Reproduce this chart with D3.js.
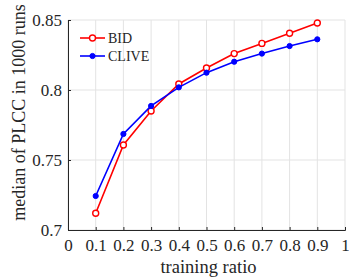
<!DOCTYPE html>
<html>
<head>
<meta charset="utf-8">
<script src="https://cdn.jsdelivr.net/npm/d3@7"></script>
<style>
  body { margin: 0; background: #fff; }
  svg { display: block; font-family: "Liberation Serif", "Times New Roman", serif; }
</style>
</head>
<body>
<svg id="chart" width="349" height="278"></svg>
<script>
// data
const ratios = [0.1, 0.2, 0.3, 0.4, 0.5, 0.6, 0.7, 0.8, 0.9];
const bidValues = [0.712, 0.7607, 0.785, 0.8043, 0.8157, 0.826, 0.8333, 0.8405, 0.8479];
const cliveValues = [0.7243, 0.7686, 0.7886, 0.8019, 0.8124, 0.8202, 0.826, 0.8314, 0.8362];
const xTicks = [0, 0.1, 0.2, 0.3, 0.4, 0.5, 0.6, 0.7, 0.8, 0.9, 1];
const yTicks = [0.7, 0.75, 0.8, 0.85];

const svg = d3.select('#chart');
const margin = {top: 20, right: 4, bottom: 48, left: 68};
const width = 349, height = 278;
const chartWidth = width - margin.left - margin.right;
const chartHeight = height - margin.top - margin.bottom;

const g = svg.append('g')
    .attr('transform', `translate(${margin.left},${margin.top})`);

const xScale = d3.scaleLinear().domain([0, 1]).range([0, chartWidth]);
const yScale = d3.scaleLinear().domain([0.7, 0.85]).range([chartHeight, 0]);

// grid
g.selectAll('.vgrid').data(xTicks).enter().append('line')
    .attr('x1', d => xScale(d)).attr('x2', d => xScale(d))
    .attr('y1', 0).attr('y2', chartHeight)
    .attr('stroke', '#e3e3e3').attr('stroke-width', 1);
g.selectAll('.hgrid').data(yTicks).enter().append('line')
    .attr('x1', 0).attr('x2', chartWidth)
    .attr('y1', d => yScale(d)).attr('y2', d => yScale(d))
    .attr('stroke', '#e3e3e3').attr('stroke-width', 1);

// axes, ticks pointing inward like matlab
const xAxis = g.append('g')
    .attr('transform', `translate(0,${chartHeight})`)
    .call(d3.axisBottom(xScale).tickValues(xTicks).tickSize(-3).tickPadding(9)
        .tickFormat(d => d === 0 || d === 1 ? d3.format('d')(d) : d3.format('.1f')(d)));
const yAxis = g.append('g')
    .call(d3.axisLeft(yScale).tickValues(yTicks).tickSize(-3).tickPadding(6)
        .tickFormat(d => String(+d.toFixed(2))));

[xAxis, yAxis].forEach(a => {
    a.select('.domain').attr('stroke', '#262626').attr('stroke-width', 1);
    a.selectAll('.tick line').attr('stroke', '#262626');
    a.selectAll('.tick text').attr('fill', '#262626')
        .style('font-size', '17px').style('font-family', '"Liberation Serif", serif');
});

// axis labels
g.append('text')
    .attr('x', chartWidth / 2 + 2)
    .attr('y', chartHeight + 43)
    .attr('text-anchor', 'middle')
    .attr('fill', '#262626')
    .style('font-size', '18.5px')
    .text('training ratio');

g.append('text')
    .attr('transform', 'rotate(-90)')
    .attr('x', -chartHeight / 2 + 12.5)
    .attr('y', -43)
    .attr('text-anchor', 'middle')
    .attr('fill', '#262626')
    .style('font-size', '18px')
    .text('median of PLCC in 1000 runs');

const line = d3.line()
    .x((d, i) => xScale(ratios[i]))
    .y(d => yScale(d));

const series = [
    {name: 'BID', values: bidValues, color: '#ff0000', open: true},
    {name: 'CLIVE', values: cliveValues, color: '#0000ff', open: false}
];

series.forEach(s => {
    g.append('path')
        .datum(s.values)
        .attr('d', line)
        .attr('fill', 'none')
        .attr('stroke', s.color)
        .attr('stroke-width', 1.6);
    g.selectAll(null).data(s.values).enter().append('circle')
        .attr('cx', (d, i) => xScale(ratios[i]))
        .attr('cy', d => yScale(d))
        .attr('r', s.open ? 3 : 2.6)
        .attr('fill', s.open ? '#fff' : s.color)
        .attr('stroke', s.color)
        .attr('stroke-width', s.open ? 1.4 : 1);
});

// legend
const legend = g.append('g').attr('transform', 'translate(12,18)');
series.forEach((s, i) => {
    const row = legend.append('g').attr('transform', `translate(0,${i * 18})`);
    row.append('line').attr('x1', 0).attr('x2', 25).attr('y1', 0).attr('y2', 0)
        .attr('stroke', s.color).attr('stroke-width', 1.6);
    row.append('circle').attr('cx', 12.5).attr('cy', 0)
        .attr('r', s.open ? 3 : 2.6)
        .attr('fill', s.open ? '#fff' : s.color)
        .attr('stroke', s.color).attr('stroke-width', s.open ? 1.4 : 1);
    row.append('text').attr('x', 28).attr('y', 0).attr('dy', '0.35em')
        .attr('fill', '#262626').style('font-size', '14px').text(s.name);
});
</script>
</body>
</html>
